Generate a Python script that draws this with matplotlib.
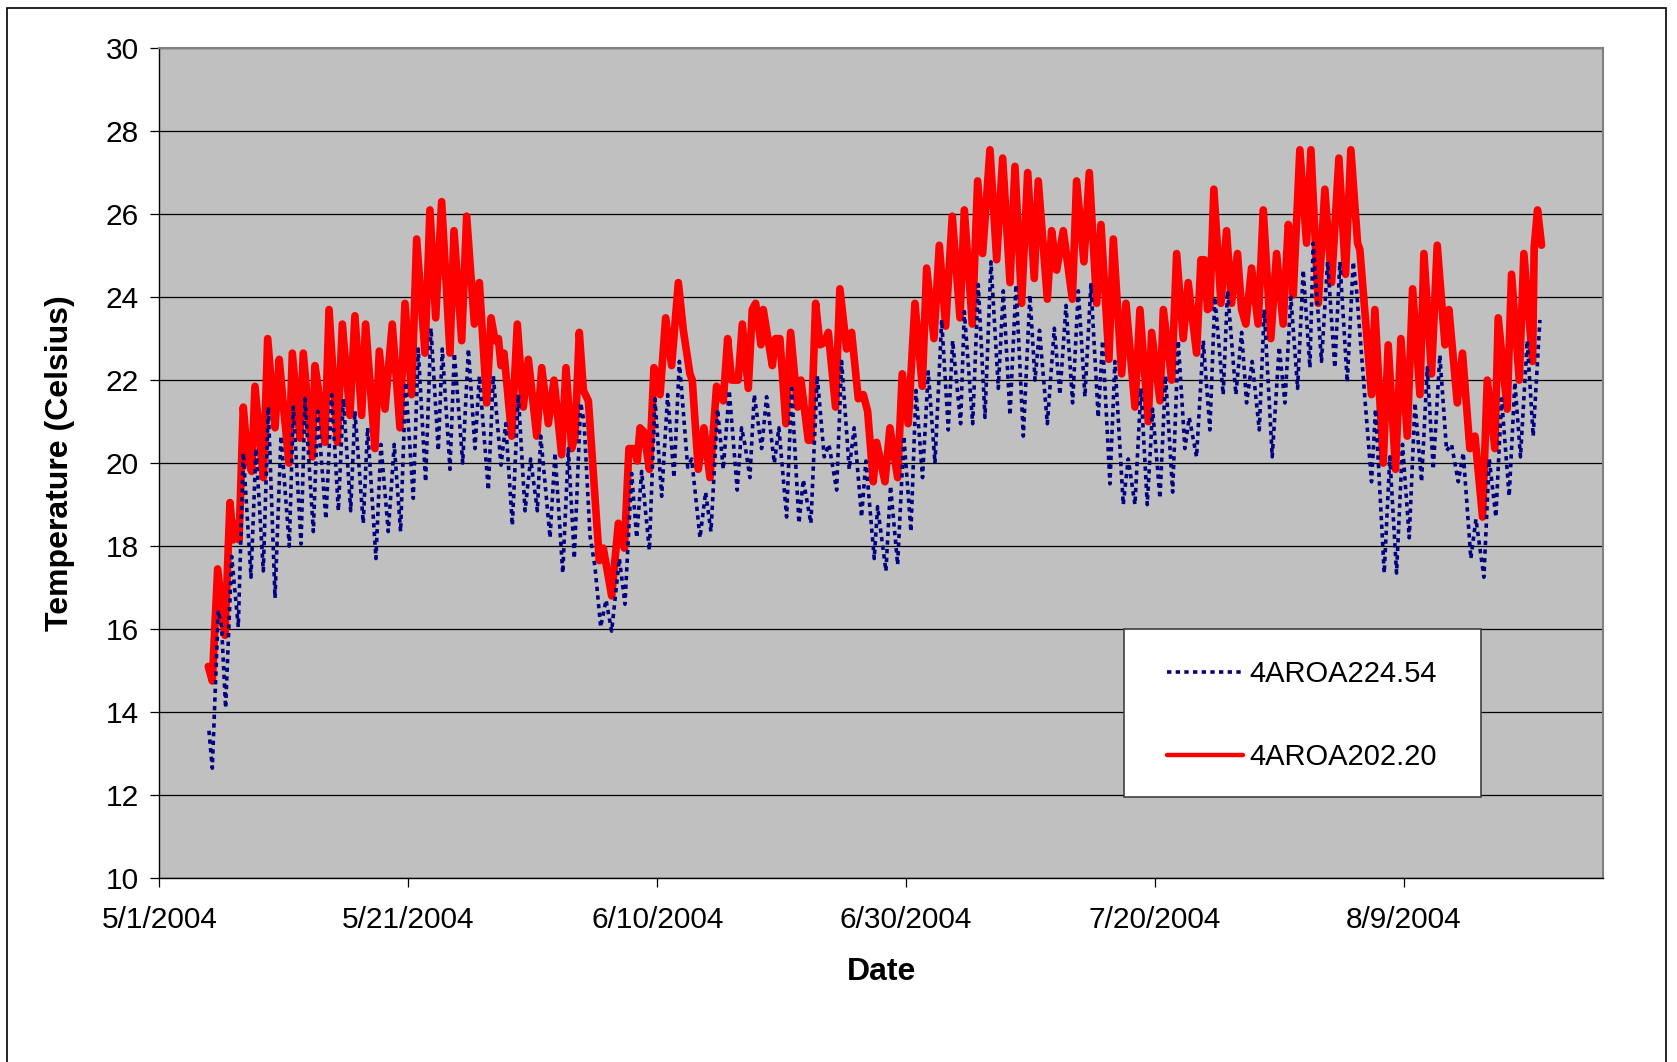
import matplotlib
matplotlib.use("Agg")
import matplotlib.pyplot as plt
from matplotlib.patches import Rectangle
import pandas as pd

# ---------------- data ----------------
start_date = "2004-05-01"
tick_labels = ["5/1/2004", "5/21/2004", "6/10/2004", "6/30/2004", "7/20/2004", "8/9/2004"]
x_end_days = 116
y_ticks = [10, 12, 14, 16, 18, 20, 22, 24, 26, 28, 30]
series_names = ["4AROA224.54", "4AROA202.20"]

# 4AROA224.54 : time (days after 5/1/2004) and temperature (C)
blue_days = [
    3.98, 4.25, 4.73, 5.00, 5.32, 5.81, 6.34, 6.74, 7.36, 7.76,
    8.35, 8.75, 9.29, 9.77, 10.44, 10.76, 11.38, 11.70, 12.37, 12.72,
    13.38, 13.84, 14.38, 14.78, 15.37, 15.71, 16.38, 16.73, 17.40, 17.80,
    18.39, 18.87, 19.38, 19.79, 20.40, 20.80, 21.39, 21.82, 22.41, 22.73,
    23.35, 23.70, 24.37, 24.83, 25.36, 25.71, 26.43, 26.83, 27.45, 27.83,
    28.36, 28.84, 29.38, 29.83, 30.37, 30.64, 31.39, 31.79, 32.41, 32.86,
    33.34, 33.85, 34.12, 34.60, 35.00, 35.46, 35.89, 36.34, 36.96, 37.41,
    37.95, 38.35, 38.75, 39.37, 39.82, 40.36, 40.84, 41.35, 41.78, 42.45,
    42.77,
    43.44, 43.89, 44.32, 44.85, 45.31, 45.79, 46.43, 46.78, 47.05, 47.45,
    47.80, 48.39, 48.79, 49.41, 49.78, 50.40, 50.80, 51.39, 51.74, 52.35,
    52.86, 53.42, 53.80, 54.42, 54.82, 55.43, 55.83, 56.42, 56.77, 57.44,
    57.71, 58.38, 58.75, 59.32, 59.82, 60.39, 60.79, 61.32, 61.78,
    62.32, 62.86, 63.39, 63.74, 64.38, 64.68, 65.35, 65.80, 66.34, 66.82,
    67.41, 67.81, 68.35, 68.83, 69.42, 69.95, 70.36, 70.72, 71.35, 71.91,
    72.36, 72.85, 73.38, 73.84, 74.37, 74.85, 75.44, 75.79, 76.38, 76.78,
    77.45, 77.85, 78.39, 78.87, 79.38, 79.81, 80.40, 80.85, 81.42, 81.87,
    82.40, 82.75, 83.34, 83.88, 84.41, 84.81, 85.48, 85.83, 86.50, 86.96,
    87.36, 87.81, 88.38, 88.78, 89.42, 89.98, 90.44, 90.92, 91.46, 91.91,
    92.45, 92.71, 93.38, 93.87, 94.45, 94.86, 95.45, 95.93, 96.20, 96.87,
    97.40, 97.72, 98.42, 98.87, 99.41, 99.89, 100.43, 100.89, 101.42, 101.88,
    102.36, 102.89, 103.43, 103.83, 104.37, 104.77, 105.38, 105.79, 106.43, 106.86,
    107.39, 107.85, 108.46, 108.92, 109.37, 109.91, 110.39, 110.93,
]
blue_temps = [
    13.55, 12.65, 16.45, 16.05, 14.1, 17.75, 16.05, 20.25, 17.25, 20.35,
    17.4, 21.35, 16.75, 20.65, 18.0, 21.35, 18.05, 21.55, 18.35, 21.25,
    18.65, 21.65, 18.85, 21.55, 18.85, 21.25, 18.55, 20.85, 17.7, 20.45,
    18.35, 20.45, 18.35, 21.95, 19.15, 22.75, 19.55, 23.25, 20.3, 22.75,
    19.85, 22.65, 20.0, 22.75, 20.35, 22.1, 19.35, 22.1, 19.95, 20.95,
    18.5, 21.65, 18.85, 20.1, 18.85, 20.65, 18.2, 20.25, 17.35, 20.35,
    17.7, 21.45, 21.0, 18.25, 17.5, 16.05, 16.7, 15.95, 17.7, 16.6,
    19.75, 18.2, 19.8, 17.9, 21.55, 19.2, 21.65, 19.65, 22.45, 19.9,
    20.1,
    18.2, 19.3, 18.35, 21.3, 19.85, 21.75, 19.35, 20.85, 20.45, 19.65,
    21.65, 20.35, 21.6, 20.0, 20.85, 18.7, 21.8, 18.55, 19.6, 18.55,
    22.1, 20.15, 20.45, 19.35, 22.45, 19.85, 20.85, 18.7, 20.05, 17.7,
    18.95, 17.4, 19.45, 17.55, 20.65, 18.35, 21.75, 19.65, 22.2,
    20.0, 23.45, 20.8, 22.95, 20.95, 23.65, 20.95, 24.3, 21.1, 24.85,
    21.8, 24.15, 21.15, 24.3, 20.65, 24.05, 22.0, 23.2, 20.95, 23.25,
    21.65, 23.8, 21.45, 24.15, 21.6, 24.3, 21.1, 22.95, 19.5, 22.45,
    19.0, 20.1, 19.0, 21.8, 19.0, 21.3, 19.15, 22.1, 19.3, 22.95,
    20.35, 21.1, 20.15, 22.95, 20.8, 24.0, 21.65, 24.15, 21.65, 23.15,
    21.45, 22.45, 20.8, 23.7, 20.15, 22.8, 21.45, 24.0, 21.8, 24.65,
    22.3, 25.3, 22.45, 24.85, 22.3, 24.85, 21.95, 24.85, 24.15, 21.55,
    19.55, 21.3, 17.35, 20.15, 17.35, 20.45, 18.2, 21.45, 19.55, 22.3,
    19.85, 22.6, 20.3, 20.45, 19.55, 20.25, 17.7, 18.65, 17.25, 20.1,
    18.7, 21.55, 19.2, 21.95, 20.15, 22.95, 20.65, 23.45,
]

# 4AROA202.20 : time (days after 5/1/2004) and temperature (C)
red_days = [
    3.93, 4.25, 4.68, 5.27, 5.67, 5.94, 6.21, 6.40, 6.74, 7.09,
    7.41, 7.68, 8.35, 8.70, 9.29, 9.63, 9.96, 10.41, 10.68, 11.30,
    11.56, 12.29, 12.50, 12.72, 13.30, 13.63, 14.30, 14.70, 15.31, 15.71,
    16.25, 16.57, 17.32, 17.67, 18.13, 18.71, 19.33, 19.73, 20.27, 20.67,
    21.34, 21.74, 22.20, 22.68,
    23.35, 23.67, 24.29, 24.69, 25.31, 25.71, 26.30, 26.65, 26.97, 27.24,
    27.45, 27.69, 28.31, 28.76, 29.24, 29.65, 30.32, 30.72, 31.25, 31.71,
    32.32, 32.67, 33.13, 33.40, 33.74, 34.07, 34.47, 35.35, 35.67, 36.34,
    36.88, 37.36, 37.73, 38.16, 38.40, 38.62, 38.94, 39.37, 39.74, 40.23,
    40.68, 41.16, 41.70, 42.10,
    42.63, 42.82, 43.30, 43.76, 44.24, 44.77, 45.31, 45.66, 45.98, 46.51,
    46.84, 47.32, 47.64, 47.91, 48.34, 48.52, 49.25, 49.51, 49.86, 50.34,
    50.72, 51.28, 51.55, 52.14, 52.35, 52.73, 53.08, 53.42, 53.75, 54.33,
    54.68, 55.22, 55.62, 56.16, 56.56, 56.91, 57.36, 57.63, 58.30, 58.70,
    59.32, 59.69, 60.17, 60.71, 61.30, 61.65,
    62.24, 62.67, 63.18, 63.71, 64.33, 64.68, 65.32, 65.75, 66.15, 66.74,
    67.28, 67.76, 68.35, 68.75, 69.28, 69.77, 70.30, 70.62, 71.35, 71.69,
    72.10, 72.63, 73.36, 73.70, 74.29, 74.72, 75.31, 75.66, 76.30, 76.65,
    77.32, 77.67, 78.39, 78.79, 79.46, 79.73, 80.40, 80.67, 81.34, 81.74,
    82.27, 82.67, 83.34, 83.69, 83.96, 84.22, 84.41, 84.73, 85.30, 85.75,
    86.15, 86.63, 86.96, 87.30, 87.76, 88.29, 88.70, 89.31, 89.77, 90.30,
    90.71, 90.97, 91.11, 91.64, 92.18, 92.53, 93.12, 93.65, 94.19, 94.78,
    95.31, 95.74, 96.28, 96.46, 97.40, 97.67, 98.34, 98.74, 99.33, 99.76,
    100.27, 100.70, 101.29, 101.61, 102.22, 102.68, 103.30, 103.62, 104.29, 104.71,
    105.30, 105.71, 106.32, 106.70, 107.31, 107.58, 108.30, 108.65, 109.27, 109.64,
    110.34, 110.47, 110.74, 111.06,
]
red_temps = [
    15.1, 14.75, 17.45, 15.85, 19.05, 18.15, 18.55, 18.15, 21.35, 20.1,
    19.8, 21.85, 19.65, 23.0, 20.85, 22.5, 21.4, 20.0, 22.65, 20.6,
    22.65, 20.15, 22.35, 21.9, 20.5, 23.7, 20.5, 23.35, 21.15, 23.55,
    21.15, 23.35, 20.35, 22.7, 21.3, 23.35, 20.85, 23.85, 21.65, 25.4,
    22.65, 26.1, 23.5, 26.3,
    22.65, 25.6, 22.95, 25.95, 23.35, 24.35, 21.45, 23.5, 22.95, 23.0,
    22.35, 22.65, 20.65, 23.35, 21.35, 22.5, 20.65, 22.3, 20.95, 22.0,
    20.2, 22.3, 20.35, 20.65, 23.15, 21.75, 21.5, 17.65, 17.95, 16.8,
    18.55, 17.95, 20.35, 20.35, 20.05, 20.85, 20.75, 19.85, 22.3, 21.65,
    23.5, 22.35, 24.35, 23.2,
    22.15, 22.0, 19.85, 20.85, 19.65, 21.85, 21.5, 23.0, 22.0, 22.0,
    23.35, 21.8, 23.7, 23.85, 22.85, 23.7, 22.35, 23.0, 23.0, 20.95,
    23.15, 21.35, 22.0, 20.55, 20.55, 23.85, 22.85, 22.9, 23.15, 21.35,
    24.2, 22.75, 23.15, 21.55, 21.65, 21.25, 19.55, 20.5, 19.55, 20.85,
    19.65, 22.15, 20.95, 23.85, 21.85, 24.7,
    23.0, 25.25, 23.3, 25.95, 23.5, 26.1, 23.35, 26.8, 25.05, 27.55,
    24.9, 27.35, 24.35, 27.15, 23.85, 27.0, 24.45, 26.8, 23.95, 25.6,
    24.65, 25.6, 23.95, 26.8, 24.85, 27.0, 23.85, 25.75, 22.5, 25.4,
    22.15, 23.85, 21.35, 23.7, 21.0, 23.15, 21.5, 23.7, 22.0, 25.05,
    23.0, 24.35, 22.65, 24.9, 24.9, 23.7, 23.75, 26.6, 23.85, 25.6,
    23.85, 25.05, 23.7, 23.35, 24.7, 23.35, 26.1, 23.0, 25.05, 23.35,
    25.75, 25.3, 24.05, 27.55, 25.3, 27.55, 23.85, 26.6, 24.35, 27.35,
    24.55, 27.55, 25.3, 25.15, 21.65, 23.7, 20.0, 22.85, 19.85, 23.0,
    20.65, 24.2, 21.65, 25.05, 22.15, 25.25, 22.85, 23.7, 21.45, 22.65,
    20.35, 20.65, 18.7, 22.0, 20.35, 23.5, 21.3, 24.55, 22.0, 25.05,
    22.45, 25.2, 26.1, 25.25,
]

# ---------------- figure ----------------
W, H = 1677, 1062
DPI = 100
plt.rcParams["font.family"] = ["Liberation Sans", "DejaVu Sans"]

fig = plt.figure(figsize=(W / DPI, H / DPI), dpi=DPI, facecolor="white")
L, R, T, B = 159.4, 1603.0, 48.1, 878.1
ax = fig.add_axes([L / W, 1 - B / H, (R - L) / W, (B - T) / H])
ax.set_facecolor("#C0C0C0")

t0 = pd.Timestamp(start_date)
bx = t0 + pd.to_timedelta(blue_days, unit="D")
rx = t0 + pd.to_timedelta(red_days, unit="D")

ax.plot(bx, blue_temps, color="#000080", lw=2.6, linestyle=(0, (1.2, 1.2)),
        dash_capstyle="butt", zorder=3, label=series_names[0])
ax.plot(rx, red_temps, color="#FF0000", lw=5.5, solid_joinstyle="round",
        solid_capstyle="round", zorder=2, label=series_names[1])

ax.set_xlim(t0, t0 + pd.Timedelta(days=x_end_days))
ax.set_ylim(y_ticks[0], y_ticks[-1])
ax.set_yticks(y_ticks)
ax.set_xticks(pd.to_datetime(tick_labels, format="%m/%d/%Y"))
ax.set_xticklabels(tick_labels)

ax.grid(axis="y", color="black", lw=0.9)
ax.set_axisbelow(True)
ax.tick_params(axis="both", direction="out", length=6.5, width=0.9, color="black",
               labelsize=21.5)
ax.tick_params(axis="y", pad=8.5)
ax.tick_params(axis="x", pad=13.5)

for s in ["left", "bottom"]:
    ax.spines[s].set_color("black")
    ax.spines[s].set_linewidth(1.0)
for s in ["top", "right"]:
    ax.spines[s].set_color("#808080")
    ax.spines[s].set_linewidth(1.5)

ax.set_xlabel("Date", fontsize=23, fontweight="bold")
ax.xaxis.set_label_coords(0.5, -0.095)
ax.set_ylabel("Temperature (Celsius)", fontsize=23, fontweight="bold", va="center")
ax.yaxis.set_label_coords(-0.0690, 0.5)

# legend box
box_l = (1124 - L) / (R - L)
box_r = (1481 - L) / (R - L)
box_t = (B - 629.3) / (B - T)
box_b = (B - 796.7) / (B - T)
ax.add_patch(Rectangle((box_l, box_b), box_r - box_l, box_t - box_b,
                       transform=ax.transAxes, facecolor="white",
                       edgecolor="#404040", lw=1.2, zorder=4.5, clip_on=False))
leg = ax.legend(loc="upper left", bbox_to_anchor=((1166.7 - L) / (R - L), (B - 660) / (B - T)),
                frameon=False, fontsize=21, handlelength=2.6, handletextpad=0.22,
                labelspacing=1.9, borderpad=0, borderaxespad=0)
leg.set_zorder(5)
leg.get_lines()[1].set_linewidth(3.2)

# outer border of the chart area
fig.patches.append(Rectangle((7 / W, -0.05), (1666 - 7) / W, 1 - 7.5 / H + 0.05,
                             transform=fig.transFigure, fill=False,
                             edgecolor="black", lw=1.2))

fig.savefig("out.png", dpi=DPI, facecolor="white")
